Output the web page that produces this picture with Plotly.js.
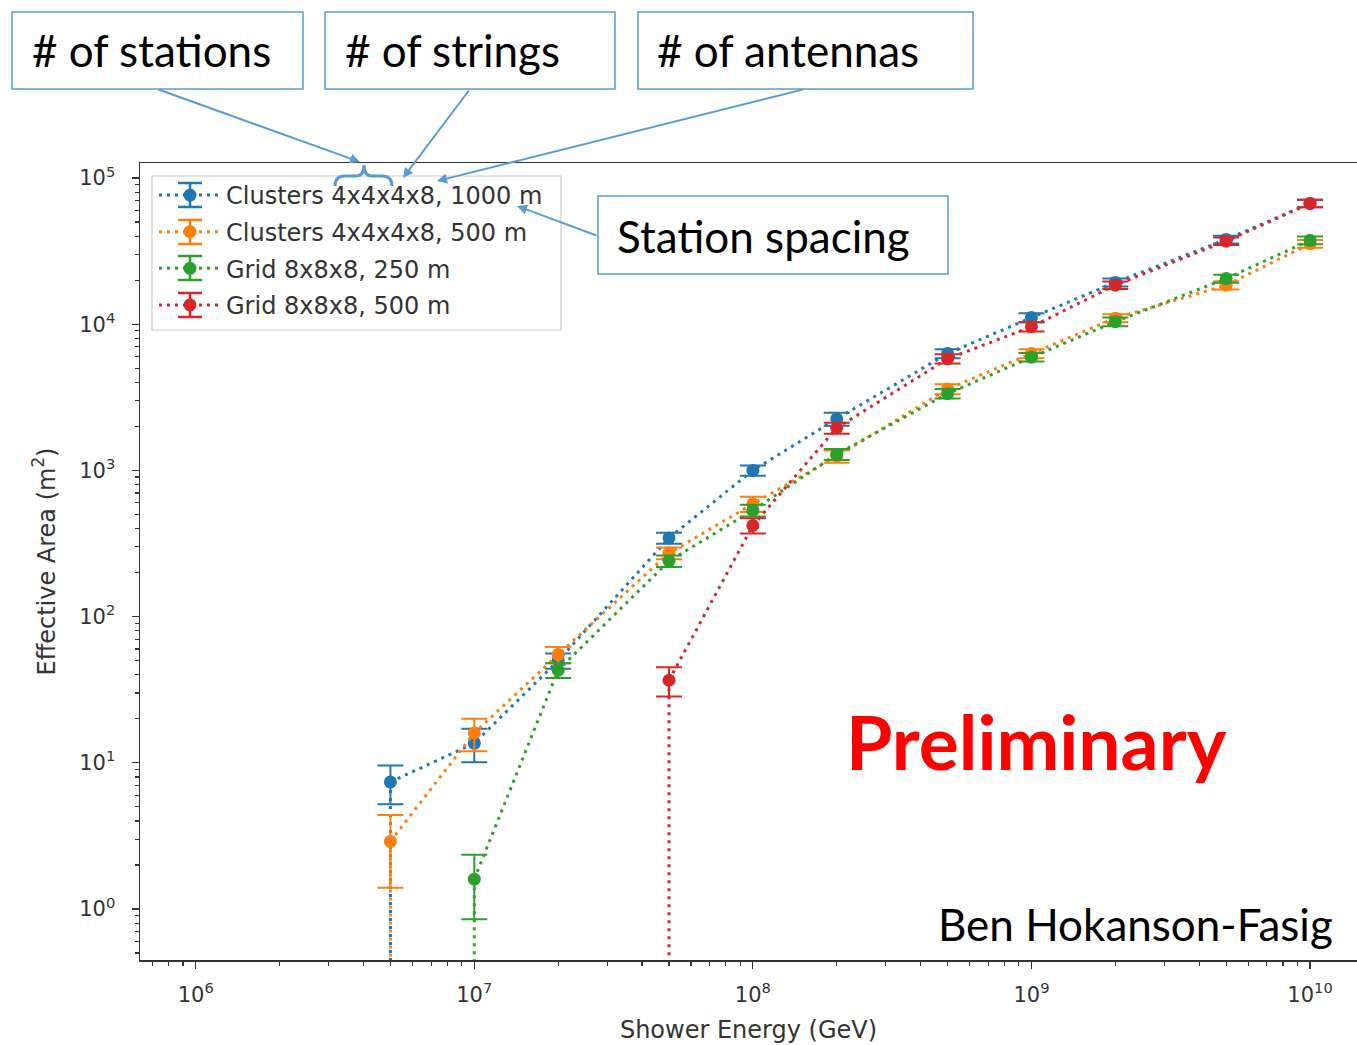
<!DOCTYPE html>
<html>
<head>
<meta charset="utf-8">
<script src="https://cdn.plot.ly/plotly-3.0.1.min.js"></script>
<style>html,body{margin:0;padding:0;background:#fff;}</style>
</head>
<body>
<div id="chart" style="width:1357px;height:1045px"></div>
<script>
// Shower energies (GeV) and effective areas (m^2); zero means no detected events
const energies = [1e6, 2e6, 5e6, 1e7, 2e7, 5e7, 1e8, 2e8, 5e8, 1e9, 2e9, 5e9, 1e10];

const clusters1000    = [0, 0, 7.4, 13.6, 50, 345, 1000, 2250, 6300, 11100, 19300, 38000, 67000];
const clusters1000Err = [0, 0, 2.2, 3.5, 6, 30, 80, 230, 450, 800, 1200, 2300, 4000];

const clusters500     = [0, 0, 2.9, 16, 55, 272, 590, 1250, 3600, 6300, 11000, 18500, 35500];
const clusters500Err  = [0, 0, 1.5, 4, 7, 25, 70, 120, 280, 450, 700, 1200, 2200];

const grid250         = [0, 0, 0, 1.6, 43, 240, 533, 1290, 3350, 5950, 10400, 20500, 37500];
const grid250Err      = [0, 0, 0, 0.75, 5, 22, 50, 110, 250, 400, 700, 1300, 2300];

const grid500         = [0, 0, 0, 0, 0, 36.7, 420, 1950, 5800, 9600, 18500, 37000, 67000];
const grid500Err      = [0, 0, 0, 0, 0, 8.3, 50, 170, 420, 700, 1100, 2200, 4000];

const seriesNames  = ['Clusters 4x4x4x8, 1000 m', 'Clusters 4x4x4x8, 500 m', 'Grid 8x8x8, 250 m', 'Grid 8x8x8, 500 m'];
const seriesColors = ['#1f77b4', '#ff7f0e', '#2ca02c', '#d62728'];

const xTickVals = [1e6, 1e7, 1e8, 1e9, 1e10];
const xTickText = ['10<sup>6</sup>', '10<sup>7</sup>', '10<sup>8</sup>', '10<sup>9</sup>', '10<sup>10</sup>'];
const yTickVals = [1, 10, 100, 1e3, 1e4, 1e5];
const yTickText = ['10<sup>0</sup>', '10<sup>1</sup>', '10<sup>2</sup>', '10<sup>3</sup>', '10<sup>4</sup>', '10<sup>5</sup>'];

// Figure geometry
const W = 1357, H = 1045, ML = 140, MR = 0, MT = 163, MB = 85;
const PW = W - ML - MR, PH = H - MT - MB;
const px = x => (x - ML) / PW;
const py = y => (H - MB - y) / PH;

const dotDash = '3px,5px';
const values = [clusters1000, clusters500, grid250, grid500];
const errors = [clusters1000Err, clusters500Err, grid250Err, grid500Err];

const traces = [];
values.forEach((vals, i) => {
  const xs = [], ys = [], es = [];
  vals.forEach((v, j) => { if (v > 0) { xs.push(energies[j]); ys.push(v); es.push(errors[i][j]); } });
  // zero entries fall off the log axis: the line drops straight down from the first detected point
  traces.push({
    x: [xs[0], xs[0]], y: [ys[0], 1e-3], mode: 'lines', type: 'scatter',
    line: {color: seriesColors[i], width: 3, dash: dotDash},
    showlegend: false, hoverinfo: 'skip', legendgroup: 'g' + i
  });
  traces.push({
    x: xs, y: ys, name: seriesNames[i], type: 'scatter', mode: 'lines+markers',
    legendgroup: 'g' + i,
    line: {color: seriesColors[i], width: 3, dash: dotDash},
    marker: {color: seriesColors[i], size: 13},
    error_y: {type: 'data', array: es, visible: true, color: seriesColors[i], thickness: 2, width: 13}
  });
});

const minorX = [], minorY = [];
for (let d = 5; d <= 10; d++) for (let k = 2; k <= 9; k++) minorX.push(k * Math.pow(10, d));
for (let d = -1; d <= 5; d++) for (let k = 2; k <= 9; k++) minorY.push(k * Math.pow(10, d));

const shapes = [];
// legend frame, drawn as a shape so the brace can sit on top of it
shapes.push({type: 'rect', xref: 'paper', yref: 'paper', layer: 'above',
  x0: px(152), x1: px(561), y0: py(176), y1: py(330),
  line: {color: '#cccccc', width: 1.2}, fillcolor: 'rgba(255,255,255,0.9)'});
// error-bar glyphs behind the legend markers
const legendRows = [195, 232, 268, 305];
const legendMarkX = 190;
legendRows.forEach((ry, i) => {
  const c = seriesColors[i];
  shapes.push({type: 'line', xref: 'paper', yref: 'paper', layer: 'above',
    x0: px(legendMarkX), x1: px(legendMarkX), y0: py(ry - 12), y1: py(ry + 12), line: {color: c, width: 2.5}});
  [ry - 12, ry + 12].forEach(cy => shapes.push({type: 'line', xref: 'paper', yref: 'paper', layer: 'above',
    x0: px(legendMarkX - 12), x1: px(legendMarkX + 12), y0: py(cy), y1: py(cy), line: {color: c, width: 2.5}}));
});

const calloutBlue = '#5B9BD5';
const boxes = [
  [12, 12, 303, 89], [325, 12, 615, 89], [638, 12, 973, 89], [598, 196, 948, 274]
];
boxes.forEach(b => shapes.push({
  type: 'rect', xref: 'paper', yref: 'paper', layer: 'above',
  x0: px(b[0]), x1: px(b[2]), y0: py(b[1]), y1: py(b[3]),
  line: {color: calloutBlue, width: 1.5}, fillcolor: '#ffffff'
}));
// curly brace over the station count
const bracePts = 'M335,186 Q335,176 345,176 L356,176 Q364,176 364,165 Q364,176 372,176 L382,176 Q392,176 392,186';
const bracePath = bracePts.replace(/(-?\d+\.?\d*),(-?\d+\.?\d*)/g, (m, a, b) => px(+a) + ',' + py(+b));
shapes.push({type: 'path', xref: 'paper', yref: 'paper', layer: 'above', path: bracePath,
  line: {color: calloutBlue, width: 3}});

const calloutFont = {family: 'Lato, Open Sans, sans-serif', size: 44, color: '#000'};
const annotations = [
  {text: '# of stations', x: px(30), y: py(50)},
  {text: '# of strings', x: px(343), y: py(50)},
  {text: '# of antennas', x: px(655), y: py(50)},
  {text: 'Station spacing', x: px(615), y: py(236)}
].map(a => Object.assign({xref: 'paper', yref: 'paper', xanchor: 'left', yanchor: 'middle',
  showarrow: false, font: calloutFont}, a));

// arrows: [tipX, tipY, tailX, tailY]
const arrows = [[360, 162, 157, 89], [403, 178, 470, 89], [437, 181, 805, 89], [517, 206, 598, 236]];
arrows.forEach(a => annotations.push({
  xref: 'paper', yref: 'paper', x: px(a[0]), y: py(a[1]), ax: a[2] - a[0], ay: a[3] - a[1],
  text: '', showarrow: true, arrowhead: 2, arrowsize: 1, arrowwidth: 2, arrowcolor: calloutBlue,
  standoff: 0, startstandoff: 0, font: {size: 1}
}));

annotations.push({text: '<b>Preliminary</b>', xref: 'paper', yref: 'paper', x: px(1036), y: py(741),
  xanchor: 'center', yanchor: 'middle', showarrow: false,
  font: {family: 'Lato, Open Sans, sans-serif', size: 75, color: '#ff0000'}});
annotations.push({text: 'Ben Hokanson-Fasig', xref: 'paper', yref: 'paper', x: px(1135), y: py(924),
  xanchor: 'center', yanchor: 'middle', showarrow: false,
  font: {family: 'Lato, Open Sans, sans-serif', size: 44, color: '#000'}});

const tickFont = {family: 'DejaVu Sans', size: 21, color: '#333'};
const titleFont = {family: 'DejaVu Sans', size: 24, color: '#333'};
const axisCommon = {
  type: 'log', showgrid: false, zeroline: false, tickmode: 'array',
  ticks: 'outside', ticklen: 7, tickwidth: 1.2, tickcolor: '#333',
  showline: true, linecolor: '#333', linewidth: 1.5, tickfont: tickFont, automargin: false
};

const layout = {
  width: W, height: H,
  margin: {l: ML, r: MR, t: MT, b: MB},
  paper_bgcolor: '#fff', plot_bgcolor: '#fff',
  showlegend: true,
  hovermode: false,
  xaxis: Object.assign({}, axisCommon, {
    range: [5.8, 10.1686], tickvals: xTickVals, ticktext: xTickText, mirror: true,
    minor: {tickmode: 'array', tickvals: minorX, ticks: 'outside', ticklen: 4, tickcolor: '#333', showgrid: false},
    ticklabelstandoff: 8,
    title: {text: 'Shower Energy (GeV)', font: titleFont, standoff: 15}
  }),
  yaxis: Object.assign({}, axisCommon, {
    range: [-0.3488, 5.1026], tickvals: yTickVals, ticktext: yTickText,
    minor: {tickmode: 'array', tickvals: minorY, ticks: 'outside', ticklen: 4, tickcolor: '#333', showgrid: false},
    ticklabelstandoff: 12,
    title: {text: 'Effective Area (m<sup>2</sup>)', font: titleFont, standoff: 17}
  }),
  legend: {
    x: px(154), y: py(173), xanchor: 'left', yanchor: 'top',
    bgcolor: 'rgba(0,0,0,0)', borderwidth: 0,
    font: {family: 'DejaVu Sans', size: 24, color: '#333'},
    traceorder: 'grouped', tracegroupgap: 2.4, itemwidth: 62
  },
  shapes: shapes,
  annotations: annotations
};

Plotly.newPlot('chart', traces, layout, {staticPlot: true, displayModeBar: false});
</script>
</body>
</html>
